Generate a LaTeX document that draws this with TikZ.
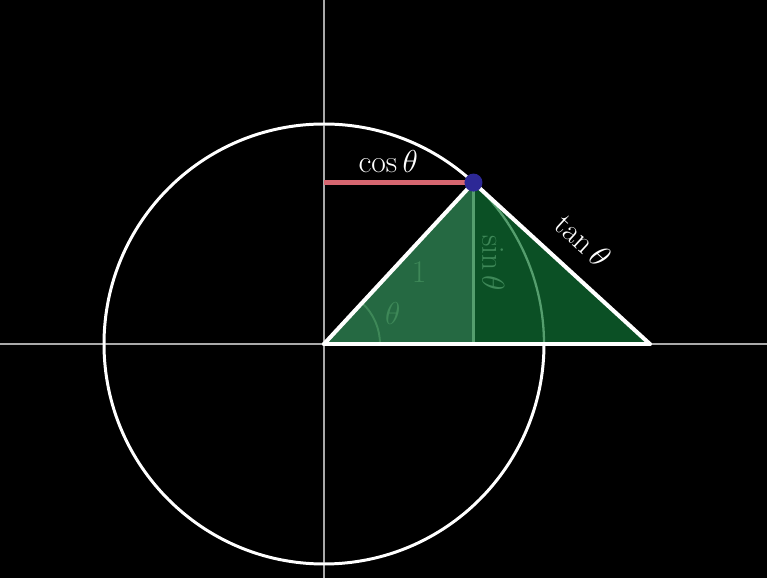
\RequirePackage{fix-cm}
\documentclass[tikz,border=0pt]{standalone}
\usepackage{amsmath, amssymb}
\usepackage{xcolor}
\usepackage{tikz}
\usetikzlibrary{positioning, calc}

\begin{document}
\begin{tikzpicture}[>=latex, every node/.style={font=\fontsize{18}{22}\selectfont}]
    % Define styles
    \tikzset{
        axis/.style={draw=axisgray, line width=0.8pt},
        edge/.style={draw=white, line width=2.3pt, line join=round, line cap=round},
        faintline/.style={draw=faintgreen, line width=1.3pt},
        faintlabel/.style={text=fadegreen},
    }
    % Define colors
    \definecolor{axisgray}{RGB}{170,170,170}
    \definecolor{lightfill}{RGB}{37,105,66}
    \definecolor{darkfill}{RGB}{11,80,37}
    \definecolor{faintgreen}{RGB}{85,158,110}
    \definecolor{fadegreen}{RGB}{62,136,88}
    \definecolor{cosred}{RGB}{214,102,112}
    \definecolor{dotblue}{RGB}{45,40,150}

    % Background
    \fill[black] (-6.48,-4.68) rectangle (8.86,6.88);
    \useasboundingbox (-6.48,-4.68) rectangle (8.86,6.88);

    % Points
    \def\rad{4.4}
    \def\ang{47.2}
    \coordinate (O) at (0,0);
    \coordinate (P) at (\ang:\rad);
    \coordinate (F) at (P |- O);
    \coordinate (C) at (O |- P);
    \coordinate (T) at ({\rad/cos(\ang)+0.04},0);

    % Axes
    \draw[axis] (-6.48,0) -- (8.86,0);
    \draw[axis] (0,-4.68) -- (0,6.88);

    % Unit circle
    \draw[white, line width=1.7pt] (O) circle (\rad);

    % Triangle fills
    \fill[lightfill] (O) -- (P) -- (F) -- cycle;
    \fill[darkfill] (P) -- (T) -- (F) -- cycle;

    % Faint lines inside the triangle
    \draw[faintline] (P) arc[start angle=\ang, end angle=0, radius=\rad];
    \draw[faintline, line width=1.6pt] (P) -- (F) node[midway, sloped, above=1pt, faintlabel] {$\sin\theta$};
    \draw[draw=fadegreen, line width=1.1pt] (1.12,0) arc[start angle=0, end angle=\ang, radius=1.12];
    \node[faintlabel] (one) at (1.9,1.44) {$1$};
    \node[faintlabel] (theta) at ({\ang/2}:1.5) {$\theta$};

    % Triangle edges
    \draw[edge] (O) -- (P);
    \draw[edge] (P) -- (T) node[midway, sloped, above=7pt, text=white] {$\tan\theta$};
    \draw[edge] (O) -- (T);

    % Cosine segment and point
    \draw[cosred, line width=2.8pt] (C) -- (P) node[pos=0.43, above=1pt, text=white] {$\cos\theta$};
    \node[circle, fill=dotblue, inner sep=0pt, minimum size=0.36cm] (dot) at (P) {};

\end{tikzpicture}
\end{document}
